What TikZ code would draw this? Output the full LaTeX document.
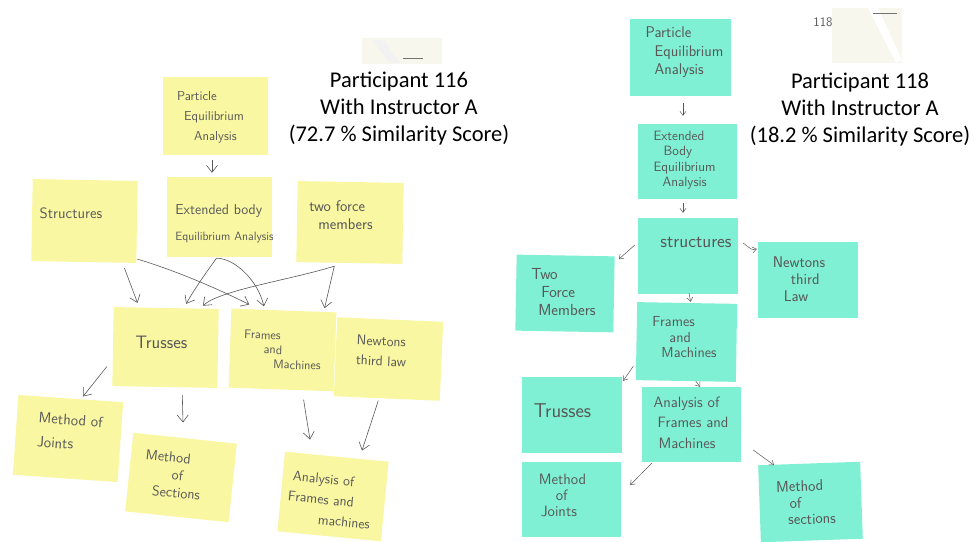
\documentclass[tikz,border=0pt]{standalone}
\usepackage{fontspec}
\setmainfont{Carlito}
\usetikzlibrary{arrows.meta,calc}
\definecolor{notey}{RGB}{250,247,162}
\definecolor{notet}{RGB}{128,240,212}
\definecolor{ink}{RGB}{88,88,88}
\definecolor{scrap}{RGB}{247,247,238}
\tikzset{
  ynote/.style={fill=notey, draw=none, inner sep=0pt, rectangle},
  tnote/.style={fill=notet, draw=none, inner sep=0pt, rectangle},
  hw/.style={font=\sffamily\fontsize{11}{14}\selectfont, text=ink, align=left, inner sep=0pt},
  arrL/.style={draw=ink, line width=0.6pt, -{Straight Barb[length=7pt,width=11pt]}},
  arrR/.style={draw=ink, line width=0.5pt, -{Straight Barb[length=4pt,width=6pt]}},
  ttl/.style={font=\fontsize{22.5}{27}\selectfont, align=center, inner sep=0pt},
}
\begin{document}
\begin{tikzpicture}[x=1pt,y=-1pt]
\useasboundingbox[fill=white] (0,0) rectangle (974,541);

% paper scraps of the photo
\fill[scrap] (362,38) rectangle (442,64);
\fill[black!5] (372,40) -- (384,40) -- (400,63) -- (390,63) -- cycle;
\draw[black!55, line width=1pt] (403,58) -- (423,58);
\fill[scrap] (832,8) rectangle (902,63);
\fill[white] (868,8) -- (878,8) -- (902,60) -- (896,63) -- cycle;
\draw[black!55, line width=1pt] (873,13) -- (897,13);
\node[hw, font=\sffamily\fontsize{13}{14}\selectfont] (num118) at (823,22) {118};

% ---------------- left: participant 116 ----------------
\node[ttl] (title116) at (399,109) {Participant 116\\With Instructor A\\(72.7 \% Similarity Score)};

\node[ynote, minimum width=105pt, minimum height=78pt,
  label={[hw, font=\sffamily\fontsize{13}{20}\selectfont, xshift=-5pt, yshift=-1pt]center:{Particle\\\hspace*{7pt}Equilibrium\\\hspace*{17pt}Analysis}}]
  (lpart) at (215.5,116) {};
\node[ynote, minimum width=105pt, minimum height=82pt, rotate=-1,
  label={[hw, font=\sffamily\fontsize{15}{17}\selectfont, xshift=-13.5pt, yshift=8pt]center:{Structures}}]
  (lstruct) at (84.5,221) {};
\node[ynote, minimum width=105pt, minimum height=80pt,
  label={[hw, font=\sffamily\fontsize{14.3}{26}\selectfont, xshift=5pt, yshift=-7pt]center:{Extended body\\{\fontsize{12}{26}\selectfont Equilibrium Analysis}}}]
  (lext) at (219.5,217) {};
\node[ynote, minimum width=106pt, minimum height=81pt, rotate=-1,
  label={[hw, font=\sffamily\fontsize{15.5}{18}\selectfont, xshift=-9pt, yshift=7.5pt]center:{two force\\\hspace*{9pt}members}}]
  (ltwo) at (350,222.5) {};
\node[ynote, minimum width=105pt, minimum height=79pt, rotate=-1,
  label={[hw, font=\sffamily\fontsize{18}{20}\selectfont, xshift=-4pt, yshift=5.5pt]center:{Trusses}}]
  (ltrus) at (165.5,347.5) {};
\node[ynote, minimum width=105pt, minimum height=79pt, rotate=-2,
  label={[hw, font=\sffamily\fontsize{12.5}{14.5}\selectfont, rotate=-2]center:{Frames\\\hspace*{20pt}and\\\hspace*{30pt}Machines}}]
  (lframe) at (282.5,350) {};
\node[ynote, minimum width=106pt, minimum height=79pt, rotate=-2.5,
  label={[hw, font=\sffamily\fontsize{14}{20}\selectfont, xshift=-7pt, yshift=8pt, rotate=-2.5]center:{Newtons\\third law}}]
  (lnewt) at (388.5,359) {};
\node[ynote, minimum width=105pt, minimum height=80pt, rotate=-4,
  label={[hw, font=\sffamily\fontsize{15}{24}\selectfont, xshift=2pt, yshift=6.5pt, rotate=-4]center:{Method of\\Joints}}]
  (ljoint) at (68,438.5) {};
\node[ynote, minimum width=104pt, minimum height=79pt, rotate=-6,
  label={[hw, font=\sffamily\fontsize{14.3}{17.5}\selectfont, xshift=-8pt, yshift=2.5pt, rotate=-6]center:{Method\\\hspace*{28pt}of\\\hspace*{10pt}Sections}}]
  (lsect) at (181,477.5) {};
\node[ynote, minimum width=104pt, minimum height=80pt, rotate=-5.5,
  label={[hw, font=\sffamily\fontsize{14}{20.5}\selectfont, xshift=-3pt, yshift=-3.5pt, rotate=-5.5]center:{\hspace*{3pt}Analysis of\\Frames and\\\hspace*{32pt}machines}}]
  (lanal) at (333,496.5) {};

\draw[arrL] ($(lpart.south)+(-3.5,5)$) -- ($(lext.north)+(-7.5,-4)$);
\draw[arrL] ($(lstruct.south east)+(-12,5)$) -- ($(ltrus.north west)+(24,-4)$);
\draw[arrL] ($(lstruct.south east)+(1,-4)$) .. controls (180,272) and (220,290) .. ($(lframe.north west)+(18,-4)$);
\draw[arrL] ($(lext.south)+(-3,1)$) .. controls (208,270) and (195,288) .. ($(ltrus.north)+(20,-4)$);
\draw[arrL] ($(lext.south)+(-3,1)$) .. controls (234,258) and (258,280) .. ($(lframe.north)+(-20,-4)$);
\draw[arrL] ($(ltwo.south)+(-15,3)$) .. controls (290,280) and (220,290) .. ($(ltrus.north east)+(-16,-3)$);
\draw[arrL] ($(ltwo.south)+(-15,3)$) -- ($(lframe.north east)+(-12,-4)$);
\draw[arrL] ($(ltrus.west)+(-6,20)$) -- ($(ljoint.center)+(15,-42)$);
\draw[arrL] ($(ltrus.south)+(17.5,8)$) -- ($(lsect.center)+(2,-55)$);
\draw[arrL] ($(lframe.south)+(22.5,10)$) .. controls (306,415) .. ($(lanal.center)+(-23,-57)$);
\draw[arrL] ($(lnewt.south)+(-8.5,2)$) -- ($(lanal.center)+(29,-46)$);

% ---------------- right: participant 118 ----------------
\node[ttl] (title118) at (860,109.5) {Participant 118\\With Instructor A\\(18.2 \% Similarity Score)};

\node[tnote, minimum width=101pt, minimum height=77pt,
  label={[hw, font=\sffamily\fontsize{15.5}{18.5}\selectfont, xshift=4pt, yshift=5pt]center:{Particle\\\hspace*{9pt}Equilibrium\\\hspace*{9pt}Analysis}}]
  (rpart) at (680.5,57.5) {};
\node[tnote, minimum width=99pt, minimum height=75pt,
  label={[hw, font=\sffamily\fontsize{13.5}{15.5}\selectfont, xshift=-3pt, yshift=1.5pt]center:{Extended\\\hspace*{10pt}Body\\Equilibrium\\\hspace*{9pt}Analysis}}]
  (rext) at (687.5,161.5) {};
\node[tnote, minimum width=100pt, minimum height=76pt,
  label={[hw, font=\sffamily\fontsize{18.5}{20}\selectfont, xshift=8pt, yshift=14pt]center:{structures}}]
  (rstruct) at (688,256) {};
\node[tnote, minimum width=98pt, minimum height=76pt, rotate=-1,
  label={[hw, font=\sffamily\fontsize{16}{18}\selectfont, xshift=-1.5pt, yshift=1.5pt]center:{Two\\\hspace*{10pt}Force\\\hspace*{7pt}Members}}]
  (rtwo) at (565,293.5) {};
\node[tnote, minimum width=100pt, minimum height=76pt,
  label={[hw, font=\sffamily\fontsize{15.5}{17}\selectfont, xshift=-9pt, yshift=1pt]center:{Newtons\\\hspace*{18pt}third\\\hspace*{11pt}Law}}]
  (rnewt) at (808,280) {};
\node[tnote, minimum width=100pt, minimum height=78pt, rotate=-1,
  label={[hw, font=\sffamily\fontsize{14.5}{15.5}\selectfont, xshift=-2pt, yshift=4.5pt]center:{Frames\\\hspace*{17pt}and\\\hspace*{9pt}Machines}}]
  (rframe) at (686.5,342) {};
\node[tnote, minimum width=100pt, minimum height=76pt,
  label={[hw, font=\sffamily\fontsize{20}{22}\selectfont, xshift=-9.5pt, yshift=4pt]center:{Trusses}}]
  (rtrus) at (572,415) {};
\node[tnote, minimum width=99pt, minimum height=75pt,
  label={[hw, font=\sffamily\fontsize{15}{20.5}\selectfont, xshift=-0.5pt, yshift=2pt]center:{Analysis of\\\hspace*{4pt}Frames and\\\hspace*{5pt}Machines}}]
  (ranal) at (691.5,424.5) {};
\node[tnote, minimum width=99pt, minimum height=75pt,
  label={[hw, font=\sffamily\fontsize{15}{16}\selectfont, xshift=-9pt, yshift=4.5pt]center:{Method\\\hspace*{17pt}of\\\hspace*{2pt}Joints}}]
  (rjoint) at (571.5,499.5) {};
\node[tnote, minimum width=102pt, minimum height=77pt, rotate=2,
  label={[hw, font=\sffamily\fontsize{15.5}{16.5}\selectfont, xshift=-4.5pt, yshift=-0.5pt, rotate=2]center:{Method\\\hspace*{13pt}of\\\hspace*{11pt}sections}}]
  (rsect) at (810.5,502) {};

\draw[arrR] ($(rpart.south)+(2.5,7)$) -- ($(rext.north)+(-4.5,-8)$);
\draw[arrR] ($(rext.south)+(-4.5,4)$) -- ($(rstruct.north)+(-5,-5)$);
\draw[arrR] ($(rstruct.west)+(-3,-11)$) -- ($(rtwo.north east)+(4,3)$);
\draw[arrR] ($(rstruct.east)+(5,-13)$) .. controls (752,250) .. ($(rnewt.west)+(-1,-31)$);
\draw[arrR] ($(rstruct.south)+(1,-1)$) -- ($(rframe.north)+(3.5,-1)$);
\draw[arrR] ($(rframe.west)+(-3,25)$) -- ($(rtrus.north east)+(1,4)$);
\draw[arrR] ($(rframe.south)+(10,0)$) -- ($(ranal.north)+(8.5,0)$);
\draw[arrR] ($(ranal.south west)+(10,1)$) -- ($(rjoint.east)+(9,-14.5)$);
\draw[arrR] ($(ranal.east)+(12,25.5)$) -- ($(rsect.north west)+(16,0)$);
\end{tikzpicture}
\end{document}
